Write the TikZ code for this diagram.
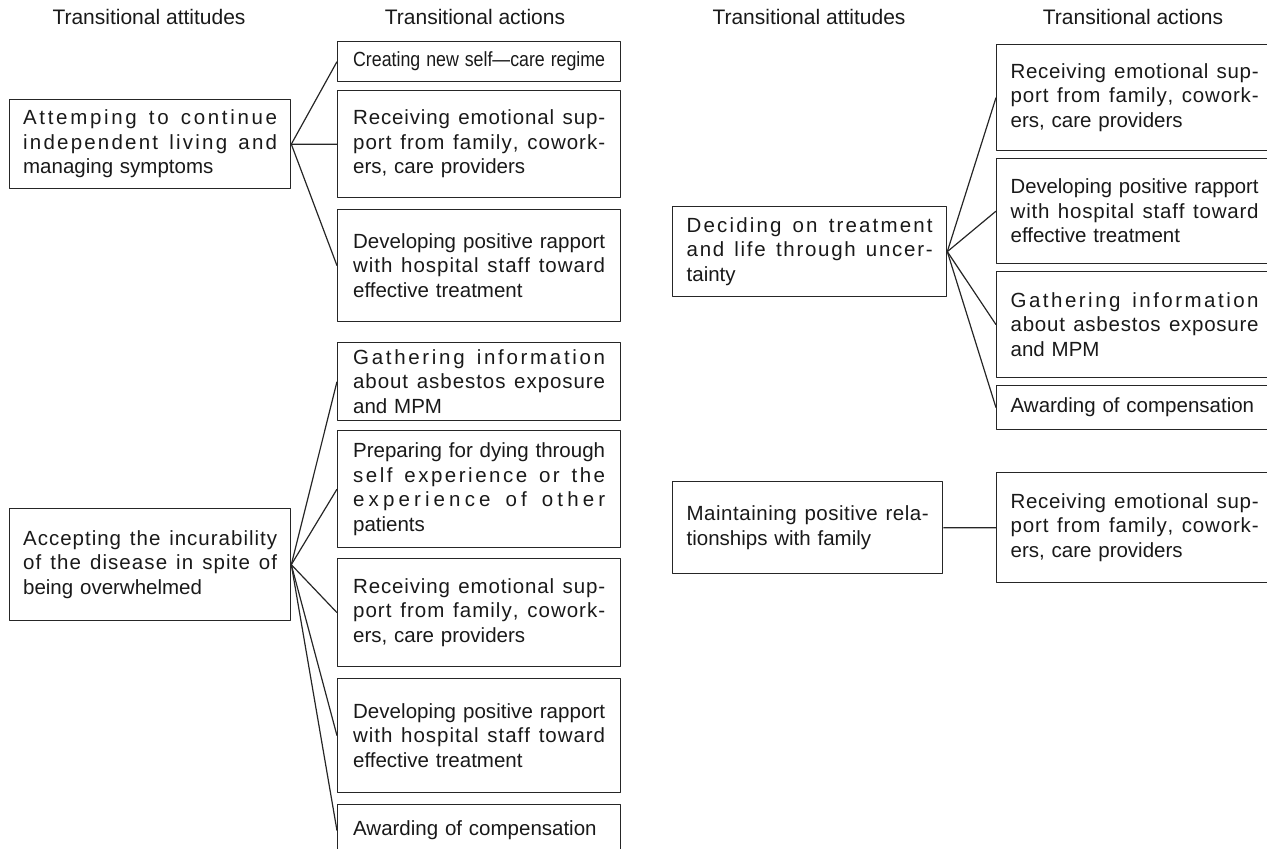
\documentclass[tikz,border=0pt]{standalone}
\usepackage{fontspec}
\setmainfont{Liberation Sans}
\usepackage{graphicx}
\setlength{\parindent}{0pt}
% one full line: spread letters, or squeeze if too long
\ExplSyntaxOn
\cs_new_protected:Npn \spreadchars #1 { \str_map_inline:nn {#1} { ##1 \hfil } }
\ExplSyntaxOff
\newcommand\fl[1]{\leavevmode\sbox0{#1}\ifdim\wd0>\hsize\resizebox{\hsize}{\height}{#1}\else\hbox to\hsize{\spreadchars{#1}\unskip}\fi\par}

\begin{document}
\begin{tikzpicture}[x=1bp, y=-1bp, line join=round,
  font=\fontsize{20.5bp}{24.5bp}\selectfont,
  box/.style={draw=black!85, line width=1.3bp, anchor=north west, align=left, inner ysep=0pt, text=black!90},
  att/.style={box, text width=254bp, inner xsep=13.5bp},
  act/.style={box, text width=252bp, inner xsep=15.5bp},
  ratt/.style={box, text width=246bp, inner xsep=14bp},
  ract/.style={box, text width=248bp, inner xsep=14bp},
  head/.style={font=\fontsize{21bp}{24bp}\selectfont, text=black!90},
  link/.style={draw=black!85, line width=1.2bp}]
  \useasboundingbox (0,0) rectangle (1267,849);
  \clip (0,0) rectangle (1267,849);

  \node[head] (h1) at (149,17) {Transitional attitudes};
  \node[head] (h2) at (475,17) {Transitional actions};
  \node[head] (h3) at (809,17) {Transitional attitudes};
  \node[head] (h4) at (1133,17) {Transitional actions};

  % left figure
  \node[att, minimum height=89bp] (a1) at (9,99) {\fl{Attemping to continue}\fl{independent living and}managing symptoms};
  \node[act, minimum height=40bp] (c1) at (337,41) {\fl{Creating new self—care regime}};
  \node[act, minimum height=107bp] (c2) at (337,90) {\fl{Receiving emotional sup-}\fl{port from family, cowork-}ers, care providers};
  \node[act, minimum height=112bp] (c3) at (337,209) {\fl{Developing positive rapport}\fl{with hospital staff toward}effective treatment};
  \foreach \t in {c1,c2,c3}
    \draw[link] (a1.east) -- (\t.west);

  \node[att, minimum height=112bp] (a2) at (9,508) {\fl{Accepting the incurability}\fl{of the disease in spite of}being overwhelmed};
  \node[act, minimum height=78bp] (d1) at (337,342) {\fl{Gathering information}\fl{about asbestos exposure}and MPM};
  \node[act, minimum height=117bp] (d2) at (337,430) {\fl{Preparing for dying through}\fl{self experience or the}\fl{experience of other}patients};
  \node[act, minimum height=108bp] (d3) at (337,558) {\fl{Receiving emotional sup-}\fl{port from family, cowork-}ers, care providers};
  \node[act, minimum height=114bp] (d4) at (337,678) {\fl{Developing positive rapport}\fl{with hospital staff toward}effective treatment};
  \node[act, minimum height=52bp] (d5) at (337,804) {Awarding of compensation};
  \foreach \t in {d1,d2,d3,d4,d5}
    \draw[link] (a2.east) -- (\t.west);

  % right figure
  \node[ratt, minimum height=90bp] (b1) at (672,206) {\fl{Deciding on treatment}\fl{and life through uncer-}tainty};
  \node[ract, minimum height=106bp] (e1) at (996,44) {\fl{Receiving emotional sup-}\fl{port from family, cowork-}ers, care providers};
  \node[ract, minimum height=105bp] (e2) at (996,158) {\fl{Developing positive rapport}\fl{with hospital staff toward}effective treatment};
  \node[ract, minimum height=106bp] (e3) at (996,271) {\fl{Gathering information}\fl{about asbestos exposure}and MPM};
  \node[ract, minimum height=44bp] (e4) at (996,385) {Awarding of compensation};
  \foreach \t in {e1,e2,e3,e4}
    \draw[link] (b1.east) -- (\t.west);

  \node[ratt, text width=242bp, minimum height=92bp] (b2) at (672,481) {\fl{Maintaining positive rela-}tionships with family};
  \node[ract, minimum height=110bp] (e5) at (996,472) {\fl{Receiving emotional sup-}\fl{port from family, cowork-}ers, care providers};
  \draw[link] (b2.east) -- (e5.west);
\end{tikzpicture}
\end{document}
